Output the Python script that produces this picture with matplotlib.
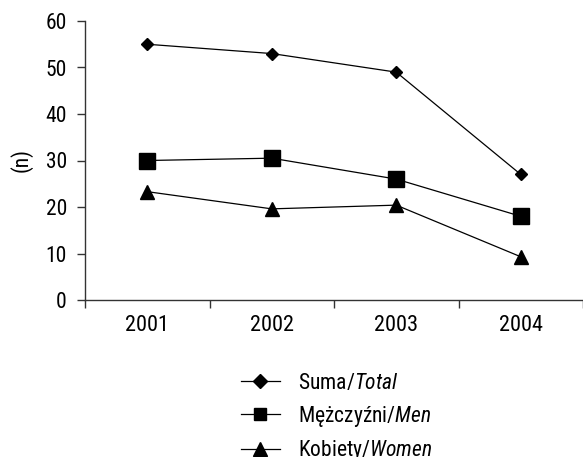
import matplotlib
matplotlib.use("Agg")
import matplotlib.pyplot as plt
from matplotlib.lines import Line2D

years = ["2001", "2002", "2003", "2004"]
total = [55, 53, 49, 27]
men = [30, 30.5, 26, 18]
women = [23.3, 19.6, 20.4, 9.3]
labels = ["Suma/$\\it{Total}$", "Mężczyźni/$\\it{Men}$", "Kobiety/$\\it{Women}$"]
yticks = [0, 10, 20, 30, 40, 50, 60]

fam = "Roboto Condensed"
plt.rcParams["font.family"] = [fam, "DejaVu Sans"]
plt.rcParams["mathtext.fontset"] = "custom"
plt.rcParams["mathtext.it"] = fam + ":italic"
plt.rcParams["mathtext.rm"] = fam

fig = plt.figure(figsize=(5.83, 4.57), dpi=100)
ax = fig.add_axes([85/583, 1 - 300/457, 1 - 85/583, (300 - 21)/457])

x = range(len(years))
style = dict(color="black", lw=0.9, markeredgecolor="black", markerfacecolor="black")
ax.plot(x, total, marker="D", ms=6.5, **style)
ax.plot(x, men, marker="s", ms=11, **style)
ax.plot(x, women, marker="^", ms=10, **style)

ax.set_xlim(-0.5, 3.5)
ax.set_ylim(0, 60)
ax.set_yticks(yticks)
ax.set_xticks([i - 0.5 for i in range(len(years) + 1)])
ax.set_xticklabels([])
ax.set_xticks(list(x), minor=True)
ax.set_xticklabels(years, minor=True, fontsize=16)
ax.tick_params(axis="x", which="minor", length=0, pad=11)
ax.tick_params(axis="x", which="major", length=6, width=1, color="#333333")
ax.tick_params(axis="y", length=6, width=1, color="#333333", labelsize=15.5, pad=7)
for s in ["top", "right"]:
    ax.spines[s].set_visible(False)
for s in ["left", "bottom"]:
    ax.spines[s].set_color("#333333")
    ax.spines[s].set_linewidth(1)
ax.set_ylabel("(n)", fontsize=15.5, labelpad=9)

handles = [
    Line2D([], [], marker="D", ms=7, **style),
    Line2D([], [], marker="s", ms=8, **style),
    Line2D([], [], marker="^", ms=9.5, **style),
]
ax.legend(handles, labels, loc="upper left", bbox_to_anchor=(241/583, 1 - 373/457),
          bbox_transform=fig.transFigure, frameon=False, fontsize=15.5,
          handlelength=1.8, handletextpad=0.85, labelspacing=0.45,
          borderpad=0, borderaxespad=0)

fig.savefig("out.png", dpi=100)
